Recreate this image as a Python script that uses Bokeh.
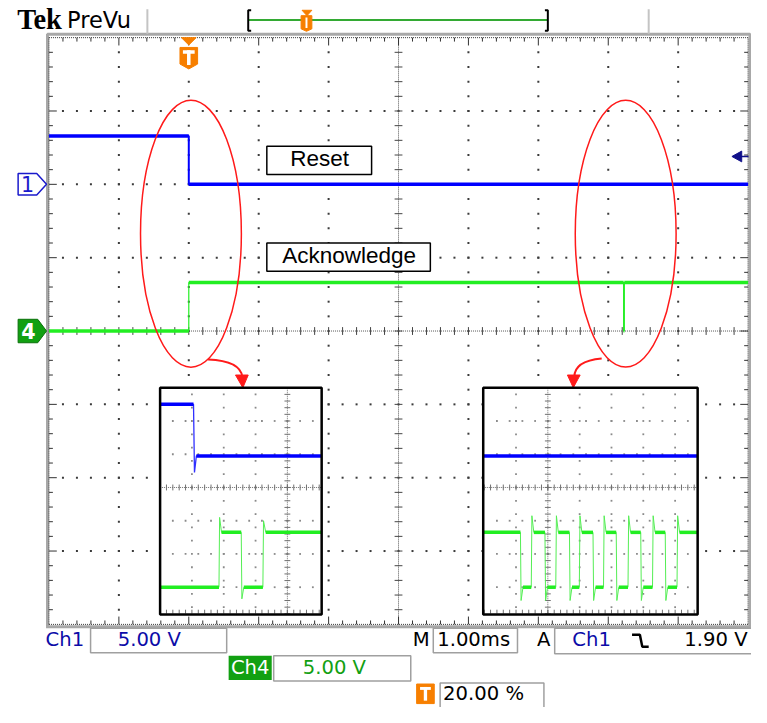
import numpy as np
from bokeh.plotting import figure
from bokeh.models import Range1d, Label
from bokeh.embed import file_html
from bokeh.resources import INLINE

# ---------------- data ----------------
time_per_div_ms = 1.00
volts_per_div = 5.00
trigger_level_v = 1.90
trigger_pos_pct = 20.00
ch1_offset_div = 2.0
ch4_offset_div = 0.0

ch1_t_ms = [0.0, 2.0, 2.0, 10.0]
ch1_v = [3.3, 3.3, 0.0, 0.0]
ch4_t_ms = [0.0, 2.0, 2.0, 8.22, 8.22, 8.23, 8.23, 10.0]
ch4_v = [0.0, 0.0, 3.3, 3.3, 0.0, 0.0, 3.3, 3.3]

# zoomed views: 2 V/div, time in zoom divisions from each view's left edge
zoom_volts_per_div = 2.0
zoom_ch1_offset_div = 0.95
zoom_ch4_offset_div = -3.0
zoomA_ch1_t = [0.0, 1.05, 1.08, 1.14, 5.08]
zoomA_ch1_v = [3.1, 3.1, -1.0, 0.0, 0.0]
zoomA_ch4_t = [0.0, 1.85, 1.87, 1.93, 2.55, 2.57, 2.63, 3.23, 3.25, 3.32, 5.08]
zoomA_ch4_v = [0.0, 0.0, 4.2, 3.3, 3.3, -0.7, 0.0, 0.0, 4.0, 3.3, 3.3]
zoomB_ch1_t = [0.0, 6.74]
zoomB_ch1_v = [0.0, 0.0]
zoomB_fall_t = [1.17, 1.94, 2.71, 3.45, 4.18, 4.95, 5.72]
zoomB_rise_t = [1.51, 2.28, 3.02, 3.78, 4.55, 5.32, 6.09]
zoomB_end_t = 6.74
zoomB_high_v = 3.3
zoomB_over_v = 4.3
zoomB_under_v = -0.8

ch_scale_labels = ["5.00 V", "5.00 V"]
timebase_label = "1.00ms"
trigger_label = "1.90 V"
trigger_pos_label = "20.00 %"
annotations = ["Reset", "Acknowledge"]

# ---------------- geometry (screen layout) ----------------
W, H = 751, 707
RW, RH = 767, 723
X0, DX = 49.5, 71.4
Y0, DY = 338.0, 75.0
FS = W / RW


def X(px):
    return (px - X0) / DX


def Y(py):
    return (Y0 - py) / DY


p = figure(width=W, height=H, x_range=Range1d(X(0), X(RW)), y_range=Range1d(Y(RH), Y(0)),
           output_backend="svg", toolbar_location=None, min_border=0,
           x_axis_location=None, y_axis_location=None)
p.grid.visible = False
p.outline_line_color = None
p.background_fill_color = "white"
p.border_fill_color = "white"


def pline(xs, ys, **kw):
    p.line([X(a) for a in xs], [Y(b) for b in ys], **kw)


def pquad(l, r, t, b, **kw):
    p.quad(left=X(l), right=X(r), top=Y(t), bottom=Y(b), **kw)


def ppatch(xs, ys, **kw):
    p.patch([X(a) for a in xs], [Y(b) for b in ys], **kw)


def label(x, ymid, text, size, color="black", font="DejaVu Sans", style="normal", align="left"):
    # ymid: vertical centre of the capital letters
    p.add_layout(Label(x=X(x), y=Y(ymid), text=text, text_font=font,
                       text_font_size=f"{size * FS:.1f}px", text_color=color,
                       text_font_style=style, text_align=align, text_baseline="middle"))


# ---------------- graticule ----------------
GRAY = "#a8a8a8"
pline([48, 48, 765.5, 765.5], [640, 34.5, 34.5, 640], line_color=GRAY, line_width=3)
pline([46.5, 767], [640.5, 640.5], line_color=GRAY, line_width=3)
pline([150, 150], [9, 34], line_color="#c4c4c4", line_width=2)
pline([662, 662], [9, 34], line_color="#c4c4c4", line_width=2)

# grid dots on major lines
gx, gy = [], []
steps = np.round(np.arange(0.2, 10.0, 0.2), 3)
vsteps = np.round(np.arange(-3.8, 4.0, 0.2), 3)
for i in range(1, 10):
    if i == 5:
        continue
    gx += [i] * len(vsteps)
    gy += list(vsteps)
for j in range(-3, 4):
    if j == 0:
        continue
    gx += list(steps)
    gy += [j] * len(steps)
p.scatter(gx, gy, marker="square", size=2, color="#3a3a3a", line_width=0)

# centre cross
p.line([5, 5], [-4, 4], line_color="#555555", line_width=1, line_dash="1 1")
p.line([0, 10], [0, 0], line_color="#555555", line_width=1, line_dash="1 1")
tk = 4.0
p.segment(x0=[5 - tk / DX] * len(vsteps), x1=[5 + tk / DX] * len(vsteps), y0=vsteps, y1=vsteps,
          line_color="#444444", line_width=1)
p.segment(x0=steps, x1=steps, y0=[-tk / DY] * len(steps), y1=[tk / DY] * len(steps),
          line_color="#444444", line_width=1)

# edge rulers
for yy in (4, -4):
    p.line([0, 10], [yy, yy], line_color="#333333", line_width=1, line_dash="1 1")
for xx in (0, 10):
    p.line([xx, xx], [-4, 4], line_color="#333333", line_width=1, line_dash="1 1")
for xs in steps:
    L = (8 if abs(xs - round(xs)) < 1e-6 else 4) / DY
    p.segment(x0=[xs, xs], x1=[xs, xs], y0=[4, -4], y1=[4 - L, -4 + L], line_color="#333333", line_width=1)
for ys in vsteps:
    L = (8 if abs(ys - round(ys)) < 1e-6 else 4) / DX
    p.segment(x0=[0, 10], x1=[L, 10 - L], y0=[ys, ys], y1=[ys, ys], line_color="#333333", line_width=1)

# annotation boxes
pquad(272, 379, 149, 178, fill_color="white", line_color="black", line_width=1.5)
label(326, 161.5, annotations[0], 23, font="Liberation Sans", align="center")
pquad(272, 439, 248, 277, fill_color="white", line_color="black", line_width=1.5)
label(356, 261, annotations[1], 23, font="Liberation Sans", align="center")


# ---------------- traces ----------------
def bands(t, v):
    x0, x1, yv = [], [], []
    for i in range(len(t) - 1):
        if v[i] == v[i + 1] and t[i + 1] > t[i]:
            x0.append(t[i]); x1.append(t[i + 1]); yv.append(v[i])
    return x0, x1, yv


BLUE, GREEN = "#0000ff", "#22ee22"

tx = np.array(ch1_t_ms) / time_per_div_ms
ty = ch1_offset_div + np.array(ch1_v) / volts_per_div
p.line(tx, ty, line_color=BLUE, line_width=2)
a, b, c = bands(list(tx), list(ty))
p.segment(x0=a, x1=b, y0=c, y1=c, line_color=BLUE, line_width=3.5)

tx = np.array(ch4_t_ms) / time_per_div_ms
ty = ch4_offset_div + np.array(ch4_v) / volts_per_div
p.line(tx, ty, line_color=GREEN, line_width=1.2)
a, b, c = bands(list(tx), list(ty))
p.segment(x0=a, x1=b, y0=c, y1=c, line_color=GREEN, line_width=3.5)

# channel markers
yc1 = Y0 - ch1_offset_div * DY
ppatch([18, 37, 47, 37, 18], [yc1 - 11, yc1 - 11, yc1, yc1 + 11, yc1 + 11],
       fill_color="white", line_color="#1a1acc", line_width=1.5)
label(27.5, yc1, "1", 21, color="#1a1acc", align="center")
yc4 = Y0 - ch4_offset_div * DY
ppatch([18, 38, 47, 38, 18], [yc4 - 12, yc4 - 12, yc4, yc4 + 12, yc4 + 12],
       fill_color="#11a011", line_color="#0a700a", line_width=1)
label(28.5, yc4, "4", 21, color="white", style="bold", align="center")

# trigger level arrow (right edge)
ytl = Y0 - (ch1_offset_div + trigger_level_v / volts_per_div) * DY
ppatch([747, 757, 757], [ytl, ytl - 5.5, ytl + 5.5], fill_color="#10108a", line_color="#10108a")
pline([756, 764], [ytl, ytl], line_color="#10108a", line_width=1.5)

ORANGE = "#f77f00"
# trigger position marker
xt = X0 + trigger_pos_pct / 100.0 * 10 * DX
ppatch([xt - 7.5, xt + 7.5, xt], [38, 38, 45.5], fill_color=ORANGE, line_color=ORANGE)
ppatch([xt - 9, xt + 9, xt + 9, xt, xt - 9], [48, 48, 65, 70, 65], fill_color=ORANGE, line_color=ORANGE)
pquad(xt - 6, xt + 6, 51, 54.5, fill_color="white", line_color=None)
pquad(xt - 1.8, xt + 1.8, 51, 66, fill_color="white", line_color=None)

# red ellipses and arrows
for cx in (194.5, 638.5):
    p.ellipse(x=X(cx), y=Y(238.5), width=103 / DX, height=273 / DY,
              fill_color=None, line_color="#ff1a1a", line_width=1.5)
p.bezier(x0=X(212), y0=Y(367), x1=X(247), y1=Y(385), cx0=X(236), cy0=Y(368), cx1=X(246), cy1=Y(375),
         line_color="#ff1a1a", line_width=2)
ppatch([240, 253, 247.5], [383, 383, 396], fill_color="#ff1a1a", line_color="#ff1a1a")
p.bezier(x0=X(614), y0=Y(366), x1=X(586), y1=Y(385), cx0=X(592), cy0=Y(368), cx1=X(586), cy1=Y(376),
         line_color="#ff1a1a", line_width=2)
ppatch([579, 592, 585], [383, 383, 396], fill_color="#ff1a1a", line_color="#ff1a1a")

# ---------------- zoomed insets ----------------
ZDX, ZDY = 32.5, 34.0


def zoom_box(left, right, top, bottom, cx, cy):
    pquad(left, right, top, bottom, fill_color="white", line_color=None)
    dx, dy = [], []
    k = -12
    while k < 12:
        xv = cx + k * ZDX
        if left + 3 < xv < right - 3 and k != 0:
            yy = np.arange(cy, top + 2, -0.4 * ZDY).tolist() + np.arange(cy, bottom - 2, 0.4 * ZDY).tolist()
            dx += [xv] * len(yy); dy += yy
        yv = cy + k * ZDY
        if top + 3 < yv < bottom - 3 and k != 0:
            xx = np.arange(cx, left + 2, -0.4 * ZDX).tolist() + np.arange(cx, right - 2, 0.4 * ZDX).tolist()
            dx += xx; dy += [yv] * len(xx)
        k += 1
    p.scatter([X(a) for a in dx], [Y(b) for b in dy], marker="square", size=1.8, color="#8a8a8a", line_width=0)
    pline([cx, cx], [top, bottom], line_color="#707070", line_width=1, line_dash="1 1")
    pline([left, right], [cy, cy], line_color="#707070", line_width=1, line_dash="1 1")
    ty_ = np.concatenate([np.arange(cy, top, -0.2 * ZDY), np.arange(cy, bottom, 0.2 * ZDY)])
    p.segment(x0=[X(cx - 3)] * len(ty_), x1=[X(cx + 3)] * len(ty_), y0=[Y(v) for v in ty_],
              y1=[Y(v) for v in ty_], line_color="#707070", line_width=1)
    tx_ = np.concatenate([np.arange(cx, left, -0.2 * ZDX), np.arange(cx, right, 0.2 * ZDX)])
    p.segment(x0=[X(v) for v in tx_], x1=[X(v) for v in tx_], y0=[Y(cy - 3)] * len(tx_),
              y1=[Y(cy + 3)] * len(tx_), line_color="#707070", line_width=1)
    p.segment(x0=[X(v) for v in tx_], x1=[X(v) for v in tx_], y0=[Y(bottom - 1)] * len(tx_),
              y1=[Y(bottom - 5)] * len(tx_), line_color="#707070", line_width=1)


def zoom_trace(left, cy, t, v, off, color, edge_color, edge_w):
    px = [left + a * ZDX for a in t]
    py = [cy - (off + b / zoom_volts_per_div) * ZDY for b in v]
    pline(px, py, line_color=edge_color, line_width=edge_w)
    a0, a1, yy = bands(px, py)
    p.segment(x0=[X(a) for a in a0], x1=[X(a) for a in a1], y0=[Y(b) for b in yy], y1=[Y(b) for b in yy],
              line_color=color, line_width=3.5)


# inset A
zoom_box(163, 328, 396, 628, 293, 498)
zoom_trace(163, 498, zoomA_ch1_t, zoomA_ch1_v, zoom_ch1_offset_div, BLUE, "#3030ff", 1.3)
zoom_trace(163, 498, zoomA_ch4_t, zoomA_ch4_v, zoom_ch4_offset_div, GREEN, "#55ee55", 1.0)
pquad(163, 328, 396, 628, fill_color=None, line_color="black", line_width=2.5)

# inset B
zoom_box(493, 712, 396, 628, 559, 498)
zoom_trace(493, 498, zoomB_ch1_t, zoomB_ch1_v, zoom_ch1_offset_div, BLUE, "#3030ff", 1.3)
bt, bv = [0.0], [zoomB_high_v]
for f, r in zip(zoomB_fall_t, zoomB_rise_t):
    bt += [f, f + 0.02, f + 0.08, r, r + 0.02, r + 0.08]
    bv += [zoomB_high_v, zoomB_under_v, 0.0, 0.0, zoomB_over_v, zoomB_high_v]
bt.append(zoomB_end_t); bv.append(zoomB_high_v)
zoom_trace(493, 498, bt, bv, zoom_ch4_offset_div, GREEN, "#55ee55", 1.0)
pquad(493, 712, 396, 628, fill_color=None, line_color="black", line_width=2.5)

# ---------------- header ----------------
label(17, 19.5, "Tek", 29, font="Liberation Serif", style="bold")
label(68, 20, "PreVu", 23)
pline([253, 559], [20, 20], line_color="#33aa33", line_width=2)
pline([256, 253, 253, 256], [10, 10, 31, 31], line_color="black", line_width=2)
pline([556, 559, 559, 556], [10, 10, 31, 31], line_color="black", line_width=2)
ppatch([308, 318, 313], [10, 10, 15.5], fill_color=ORANGE, line_color=ORANGE)
ppatch([307, 318, 318, 312.5, 307], [15.5, 15.5, 29, 31.5, 29], fill_color=ORANGE, line_color=ORANGE)
pquad(311.5, 313.5, 17.5, 28, fill_color="white", line_color=None)

# ---------------- footer readouts ----------------
BOX = "#a0a0a0"
label(46, 653.5, "Ch1", 20, color="#0c0ca8")
pquad(92, 231, 642, 667, fill_color="white", line_color=BOX, line_width=1.5)
label(152, 653.5, ch_scale_labels[0], 20, color="#0c0ca8", align="center")

pquad(233, 277, 670, 695, fill_color="#12a012", line_color=None)
label(255, 682.5, "Ch4", 20, color="white", align="center")
pquad(279, 419, 670, 696, fill_color="white", line_color=BOX, line_width=1.5)
label(341, 682.5, ch_scale_labels[1], 20, color="#12a012", align="center")

label(421, 653.5, "M", 20)
pquad(442, 528, 642, 667, fill_color="white", line_color=BOX, line_width=1.5)
label(446, 653.5, timebase_label, 20)
label(548, 653.5, "A", 20)
pquad(566, 768, 642, 668, fill_color="white", line_color=BOX, line_width=1.5)
label(584, 653.5, "Ch1", 20, color="#0c0ca8")
pline([645, 653, 655.5, 662], [648.5, 648.5, 661, 661], line_color="black", line_width=2.5)
label(763, 653.5, trigger_label, 20, align="right")

pquad(425, 443, 699, 719, fill_color=ORANGE, line_color=ORANGE, line_width=1)
pquad(428.5, 439.5, 702, 705, fill_color="white", line_color=None)
pquad(432.3, 435.7, 702, 716, fill_color="white", line_color=None)
pquad(449, 555, 698, 724, fill_color="white", line_color=BOX, line_width=1.5)
label(452, 708.5, trigger_pos_label, 20)

open("out.html", "w").write(file_html(p, INLINE))
